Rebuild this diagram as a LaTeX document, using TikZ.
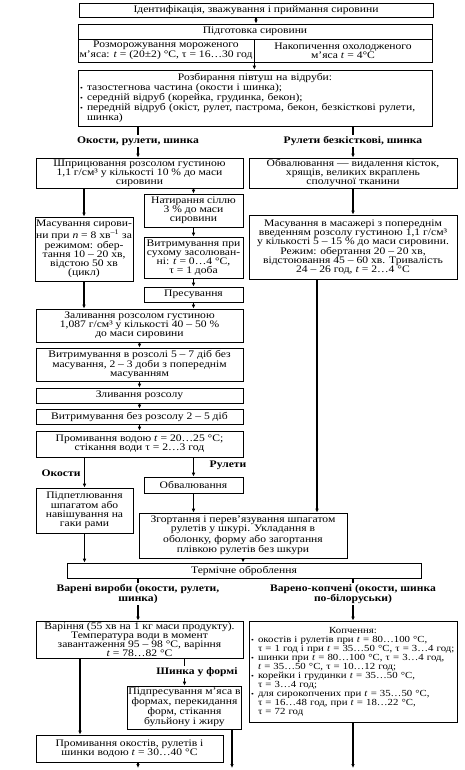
\documentclass[tikz,border=0pt]{standalone}
\usepackage{fontspec}
\setmainfont{Liberation Serif}[FakeStretch=1.16]
\usetikzlibrary{arrows.meta}
\setlength\parindent{0pt}
\newcommand\itm{\par\noindent\makebox[7pt][l]{\fontsize{7}{7}\selectfont\textbullet}}
\newcommand\cnt{\newline\hspace*{7pt}}
\newcommand\bx[7][]{%
  \node[box,minimum width={(#5-#3)*1pt},minimum height={(#6-#4)*1pt},#1] (#2) at ({(#3+#5)/2},{(#4+#6)/2}) {#7};}
\tikzset{
 box/.style={draw, line width=0.7pt, inner sep=1pt, align=center, font=\fontsize{10}{9}\selectfont},
 lab/.style={inner sep=1.5pt, align=center, font=\bfseries\fontsize{10}{9}\selectfont},
 arr/.style={line width=1.2pt, -{Latex[length=4pt,width=3.6pt]}},
 ln/.style={line width=1.2pt},
}
\begin{document}
\begin{tikzpicture}[x=1pt,y=-1pt]
\useasboundingbox (0,0) rectangle (464,770);
\bx{ident}{79}{3}{433}{17}{Ідентифікація, зважування і приймання сировини}
\bx{prepH}{78}{24}{432}{39}{Підготовка сировини}
\bx{prepL}{78}{39}{254}{62}{Розморожування мороженого\\м’яса: \textit{t} = (20±2) °C, τ = 16…30 год}
\bx{prepR}{254}{39}{432}{62}{Накопичення охолодженого\\м’яса \textit{t} = 4°C}
\bx[text width=350pt,inner sep=2pt,align=left]{rozb}{78}{70}{432}{126}{\centerline{Розбирання півтуш на відруби:}%
\itm тазостегнова частина (окости і шинка);
\itm середній відруб (корейка, грудинка, бекон);
\itm \mbox{передній відруб (окіст, рулет, пастрома, бекон, безкісткові рулети,}\cnt шинка)\par}
\node[lab] (lab1) at (138,141) {Окости, рулети, шинка};
\node[lab] (lab2) at (353,141) {Рулети безкісткові, шинка};
\bx{shp}{36}{158}{243}{188}{Шприцювання розсолом густиною\\1,1 г/см³ у кількості 10 \% до маси\\сировини}
\bx{obv1}{249}{158}{457}{188}{Обвалювання — видалення кісток,\\хрящів, великих вкраплень\\сполучної тканини}
\bx{mas}{36}{217}{132}{281}{Масування сирови-\\ни при \textit{n} = 8 хв\textsuperscript{–1} за\\режимом: обер-\\тання 10 – 20 хв,\\відстою 50 хв\\(цикл)}
\bx{nat}{144}{194}{243}{227}{Натирання сіллю\\3 \% до маси\\сировини}
\bx{vyt1}{144}{237}{243}{278}{Витримування при\\сухому засолюван-\\ні: \textit{t} = 0…4 °C,\\τ = 1 доба}
\bx{pres}{144}{287}{243}{302}{Пресування}
\bx{mm}{249}{215}{457}{279}{Масування в масажері з попереднім\\введенням розсолу густиною 1,1 г/см³\\у кількості 5 – 15 \% до маси сировини.\\Режим: обертання 20 – 20 хв,\\відстоювання 45 – 60 хв. Тривалість\\24 – 26 год, \textit{t} = 2…4 °C}
\bx{zal}{36}{309}{243}{342}{Заливання розсолом густиною\\1,087 г/см³ у кількості 40 – 50 \%\\до маси сировини}
\bx{vyt2}{36}{348}{243}{381}{Витримування в розсолі 5 – 7 діб без\\масування, 2 – 3 доби з попереднім\\масуванням}
\bx{zlyv}{36}{388}{243}{403}{Зливання розсолу}
\bx{vyt3}{36}{409}{243}{424}{Витримування без розсолу 2 – 5 діб}
\bx{prom}{36}{431}{243}{457}{Промивання водою \textit{t} = 20…25 °C;\\стікання води τ = 2…3 год}
\node[lab] (labOk) at (61,473) {Окости};
\node[lab] (labRul) at (228,465) {Рулети};
\bx{obv2}{144}{477}{243}{493}{Обвалювання}
\bx{pidp}{36}{488}{133}{533}{Підпетлювання\\шпагатом або\\навішування на\\гаки рами}
\bx{zg}{139}{513}{347}{558}{Згортання і перев’язування шпагатом\\рулетів у шкурі. Укладання в\\оболонку, форму або загортання\\плівкою рулетів без шкури}
\bx{term}{67}{563}{421}{578}{Термічне оброблення}
\node[lab] (labV) at (138,594) {Варені вироби (окости, рулети,\\шинка)};
\node[lab] (labVK) at (353,594) {Варено-копчені (окости, шинка\\по-білоруськи)};
\bx{var}{36}{621}{243}{658}{Варіння (55 хв на 1 кг маси продукту).\\Температура води в момент\\завантаження 95 – 98 °C, варіння\\\textit{t} = 78…82 °C}
\bx[text width=204pt,inner sep=2pt,align=left,font=\fontsize{9.3}{9}\selectfont]{kop}{249}{621}{457}{722}{\centerline{Копчення:}%
\itm \mbox{окостів і рулетів при \textit{t} = 80…100 °C,}\cnt \mbox{τ = 1 год і при \textit{t} = 35…50 °C, τ = 3…4 год;}
\itm \mbox{шинки при \textit{t} = 80…100 °C, τ = 3…4 год,}\cnt \mbox{\textit{t} = 35…50 °C, τ = 10…12 год;}
\itm \mbox{корейки і грудинки \textit{t} = 35…50 °C,}\cnt τ = 3…4 год;
\itm \mbox{для сирокопчених при \textit{t} = 35…50 °C,}\cnt \mbox{τ = 16…48 год, при \textit{t} = 18…22 °C,}\cnt τ = 72 год\par}
\node[lab] (labSh) at (197,672) {Шинка у формі};
\bx{pidpr}{128}{686}{241}{729}{Підпресування м’яса в\\формах, перекидання\\форм, стікання\\бульйону і жиру}
\bx{promok}{36}{735}{223}{762}{Промивання окостів, рулетів і\\шинки водою \textit{t} = 30…40 °C}
\coordinate (cR) at (317,0);
\coordinate (cL) at (80,0);
\coordinate (e1) at (138,768);
\coordinate (e2) at (232,768);
\coordinate (e3) at (353,768);
% connectors
\draw[arr] (ident.south) -- (ident.south |- prepH.north);
\draw[arr] (prepL.south east) -- (prepL.south east |- rozb.north);
\draw[ln] (rozb.south -| lab1) -- (lab1.north);
\draw[arr] (lab1.south) -- (lab1.south |- shp.north);
\draw[ln] (rozb.south -| lab2) -- (lab2.north);
\draw[arr] (lab2.south) -- (lab2.south |- obv1.north);
\draw[arr] (shp.south -| mas) -- (mas.north);
\draw[arr] (shp.south -| nat) -- (nat.north);
\draw[arr] (nat.south) -- (vyt1.north);
\draw[arr] (vyt1.south) -- (pres.north);
\draw[arr] (pres.south) -- (pres.south |- zal.north);
\draw[arr] (mas.south) -- (mas.south |- zal.north);
\draw[arr] (obv1.south) -- (mm.north);
\draw[arr] (mm.south -| cR) -- (cR |- zg.north);
\draw[arr] (zal.south) -- (vyt2.north);
\draw[arr] (vyt2.south) -- (zlyv.north);
\draw[arr] (zlyv.south) -- (vyt3.north);
\draw[arr] (vyt3.south) -- (prom.north);
\draw[arr] (prom.south -| pidp) -- (pidp.north);
\draw[arr] (prom.south -| obv2) -- (obv2.north);
\draw[arr] (obv2.south) -- (obv2.south |- zg.north);
\draw[arr] (pidp.south) -- (pidp.south |- term.north);
\draw[arr] (zg.south) -- (zg.south |- term.north);
\draw[ln] (term.south -| labV) -- (labV.north);
\draw[arr] (labV.south) -- (labV.south |- var.north);
\draw[ln] (term.south -| labVK) -- (labVK.north);
\draw[arr] (labVK.south) -- (labVK.south |- kop.north);
\draw[arr] (var.south -| cL) -- (cL |- promok.north);
\draw[ln] (var.south -| pidpr) -- (pidpr |- labSh.north);
\draw[arr] (pidpr |- labSh.south) -- (pidpr.north);
\draw[arr] (promok.south -| e1) -- (e1);
\draw[arr] (pidpr.south -| e2) -- (e2);
\draw[arr] (kop.south) -- (e3);
\end{tikzpicture}
\end{document}
